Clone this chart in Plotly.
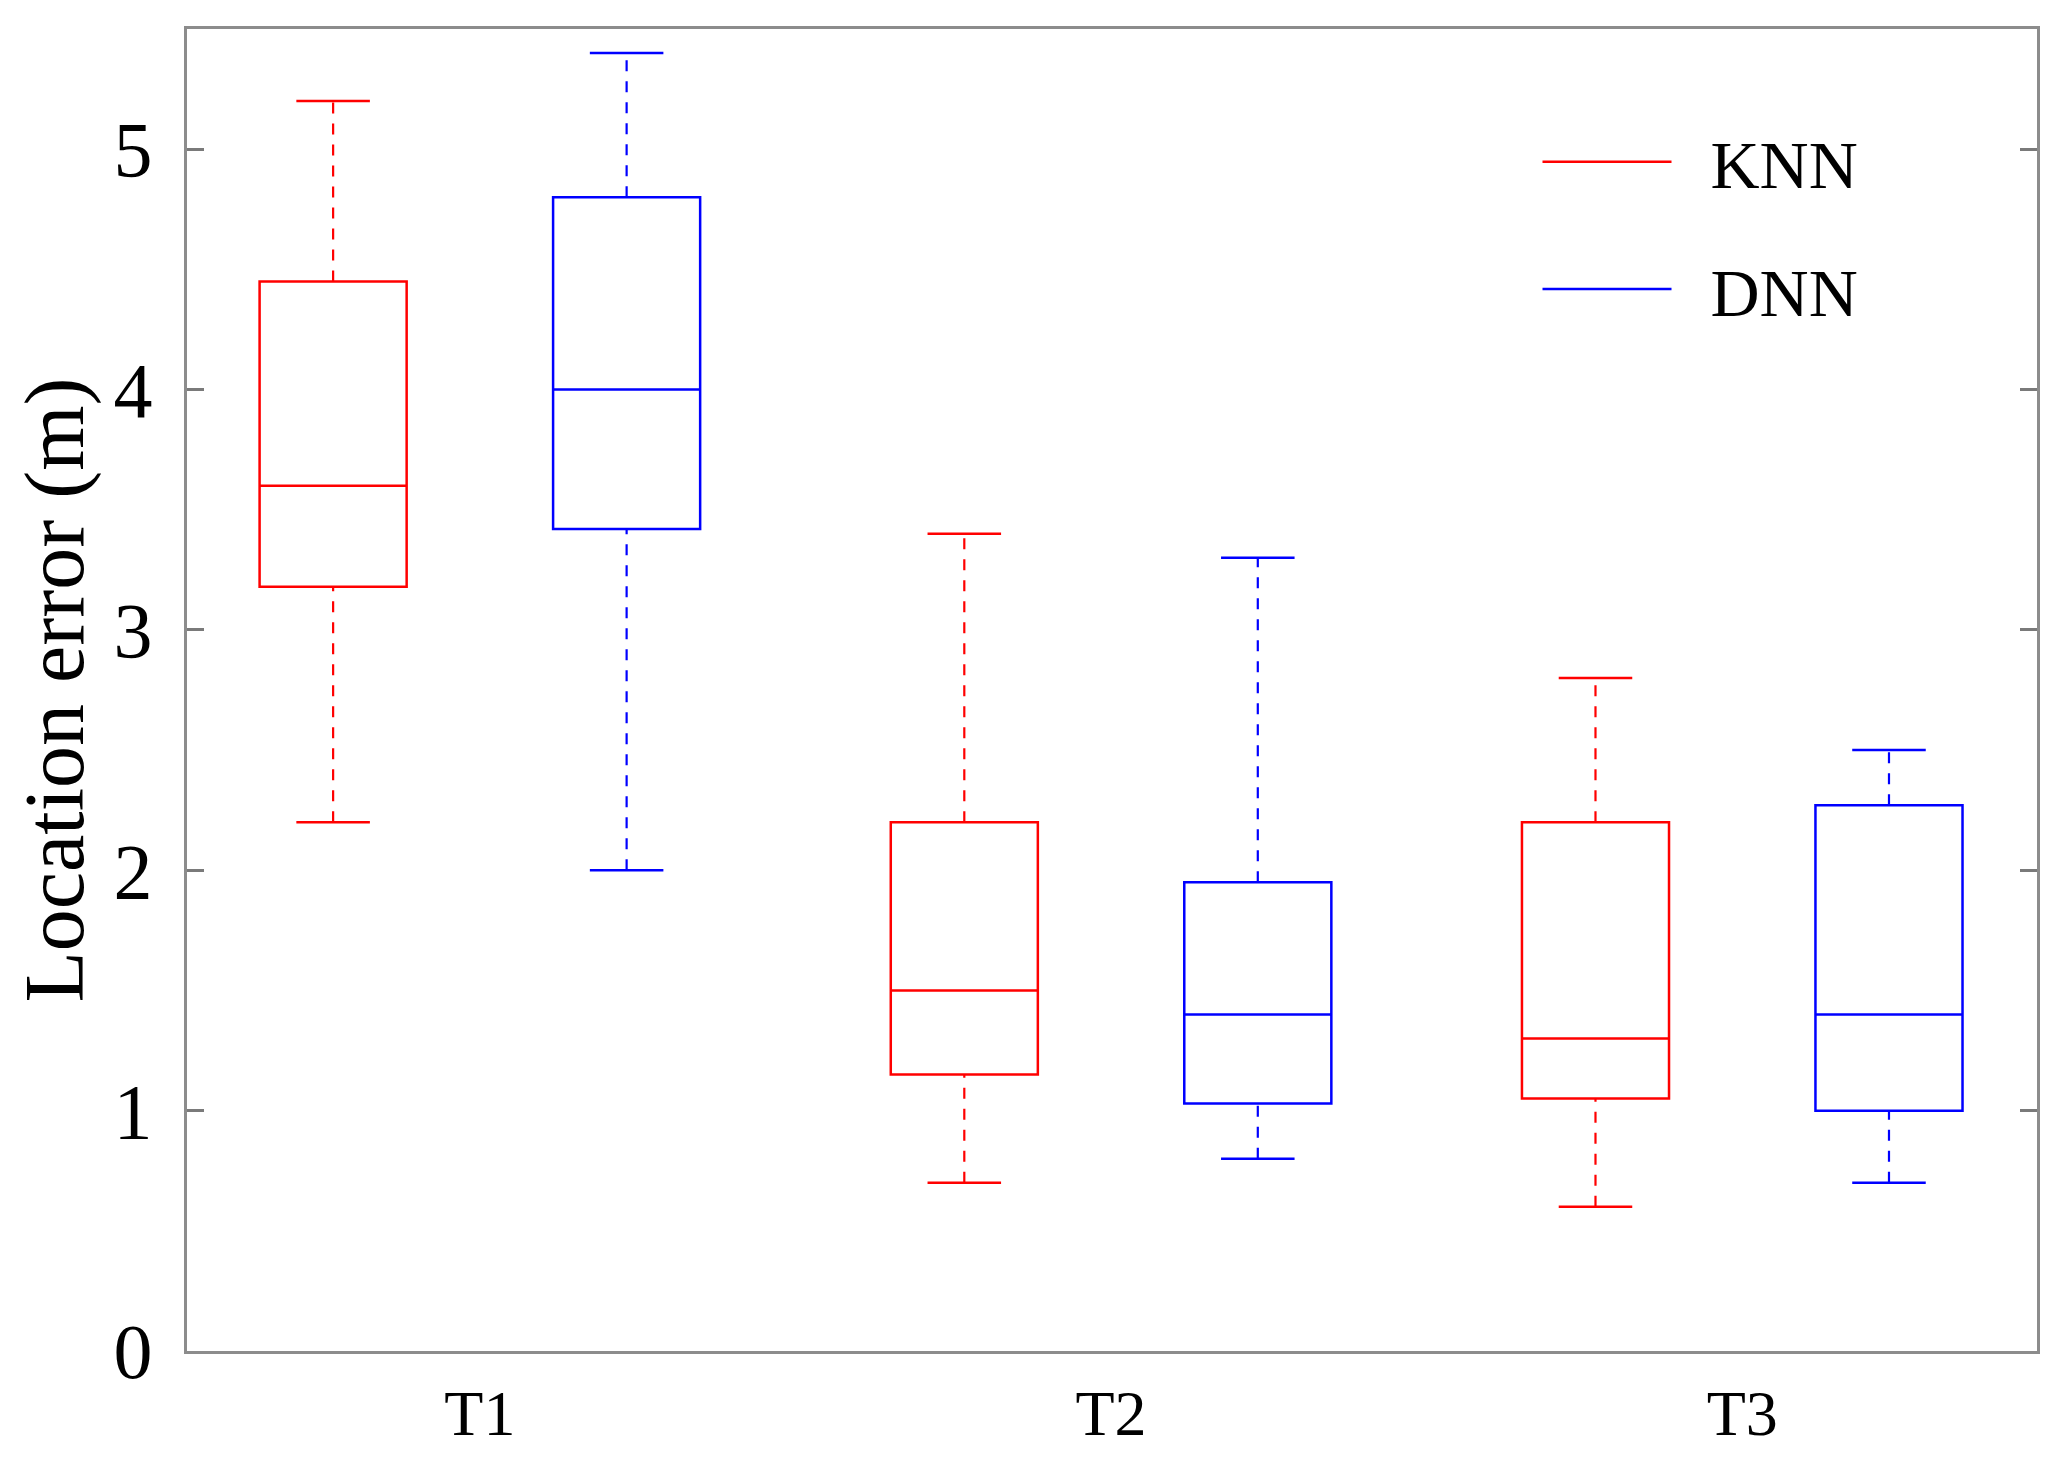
import plotly.graph_objects as go

# Données (erreur de localisation en m)
groupes = ['T1', 'T2', 'T3']
positions = [1, 2, 3]

knn_min = [2.2, 0.7, 0.6]
knn_q1 = [3.18, 1.15, 1.05]
knn_med = [3.6, 1.5, 1.3]
knn_q3 = [4.45, 2.2, 2.2]
knn_max = [5.2, 3.4, 2.8]

dnn_min = [2.0, 0.8, 0.7]
dnn_q1 = [3.42, 1.03, 1.0]
dnn_med = [4.0, 1.4, 1.4]
dnn_q3 = [4.8, 1.95, 2.27]
dnn_max = [5.4, 3.3, 2.5]

largeur = 0.233
police = 'Liberation Serif'

fig = go.Figure()


def ajouter_serie(nom, couleur, decalage, mini, q1, med, q3, maxi):
    x = [p + decalage for p in positions]

    # moustaches en pointillés + traits de fin
    wx, wy = [], []
    cx, cy = [], []
    demi = largeur / 4
    for xi, a, b, c, d in zip(x, mini, q1, q3, maxi):
        wx += [xi, xi, None, xi, xi, None]
        wy += [a, b, None, c, d, None]
        cx += [xi - demi, xi + demi, None, xi - demi, xi + demi, None]
        cy += [a, a, None, d, d, None]

    fig.add_trace(go.Scatter(
        x=wx, y=wy, mode='lines', showlegend=False, hoverinfo='skip',
        line=dict(color=couleur, width=2.2, dash='11px,10px')
    ))
    fig.add_trace(go.Scatter(
        x=cx, y=cy, mode='lines', name='\u2002' + nom, legendgroup=nom,
        line=dict(color=couleur, width=2.5)
    ))
    # boîtes
    fig.add_trace(go.Box(
        x=x, q1=q1, median=med, q3=q3, lowerfence=q1, upperfence=q3,
        width=largeur, whiskerwidth=0, boxpoints=False,
        line=dict(color=couleur, width=2.5), fillcolor='rgba(0,0,0,0)',
        showlegend=False, name=nom
    ))


ajouter_serie('KNN', '#ff0000', -0.2325, knn_min, knn_q1, knn_med, knn_q3, knn_max)
ajouter_serie('DNN', '#0000ff', 0.2325, dnn_min, dnn_q1, dnn_med, dnn_q3, dnn_max)

fig.update_layout(
    width=2063, height=1476,
    margin=dict(l=179, r=34, t=21, b=133),
    paper_bgcolor='white', plot_bgcolor='white',
    font=dict(family=police, color='black'),
    legend=dict(
        x=0.730, y=0.938, xanchor='left', yanchor='top',
        font=dict(family=police, size=68, color='black'),
        bgcolor='rgba(0,0,0,0)', itemwidth=129, tracegroupgap=36,
        traceorder='grouped'
    ),
)

fig.update_xaxes(
    range=[0.536, 3.467], tickvals=positions, ticktext=groupes,
    showline=True, mirror=True, linecolor='#8c8c8c', linewidth=3,
    ticks='', showgrid=False, zeroline=False, automargin=False,
    tickfont=dict(family=police, size=64, color='black'),
    ticklabelstandoff=4
)
fig.update_yaxes(
    range=[0, 5.5], tickvals=[0, 1, 2, 3, 4, 5],
    showline=True, mirror='ticks', linecolor='#8c8c8c', linewidth=3,
    ticks='inside', ticklen=17, tickwidth=3, tickcolor='#7a7a7a',
    showgrid=False, zeroline=False, automargin=False,
    tickfont=dict(family=police, size=78, color='black'),
    ticklabelstandoff=16,
    title=dict(text='Location error (m)', font=dict(family=police, size=84, color='black'), standoff=5)
)

fig.write_html('out.html')
print('out.html généré')
